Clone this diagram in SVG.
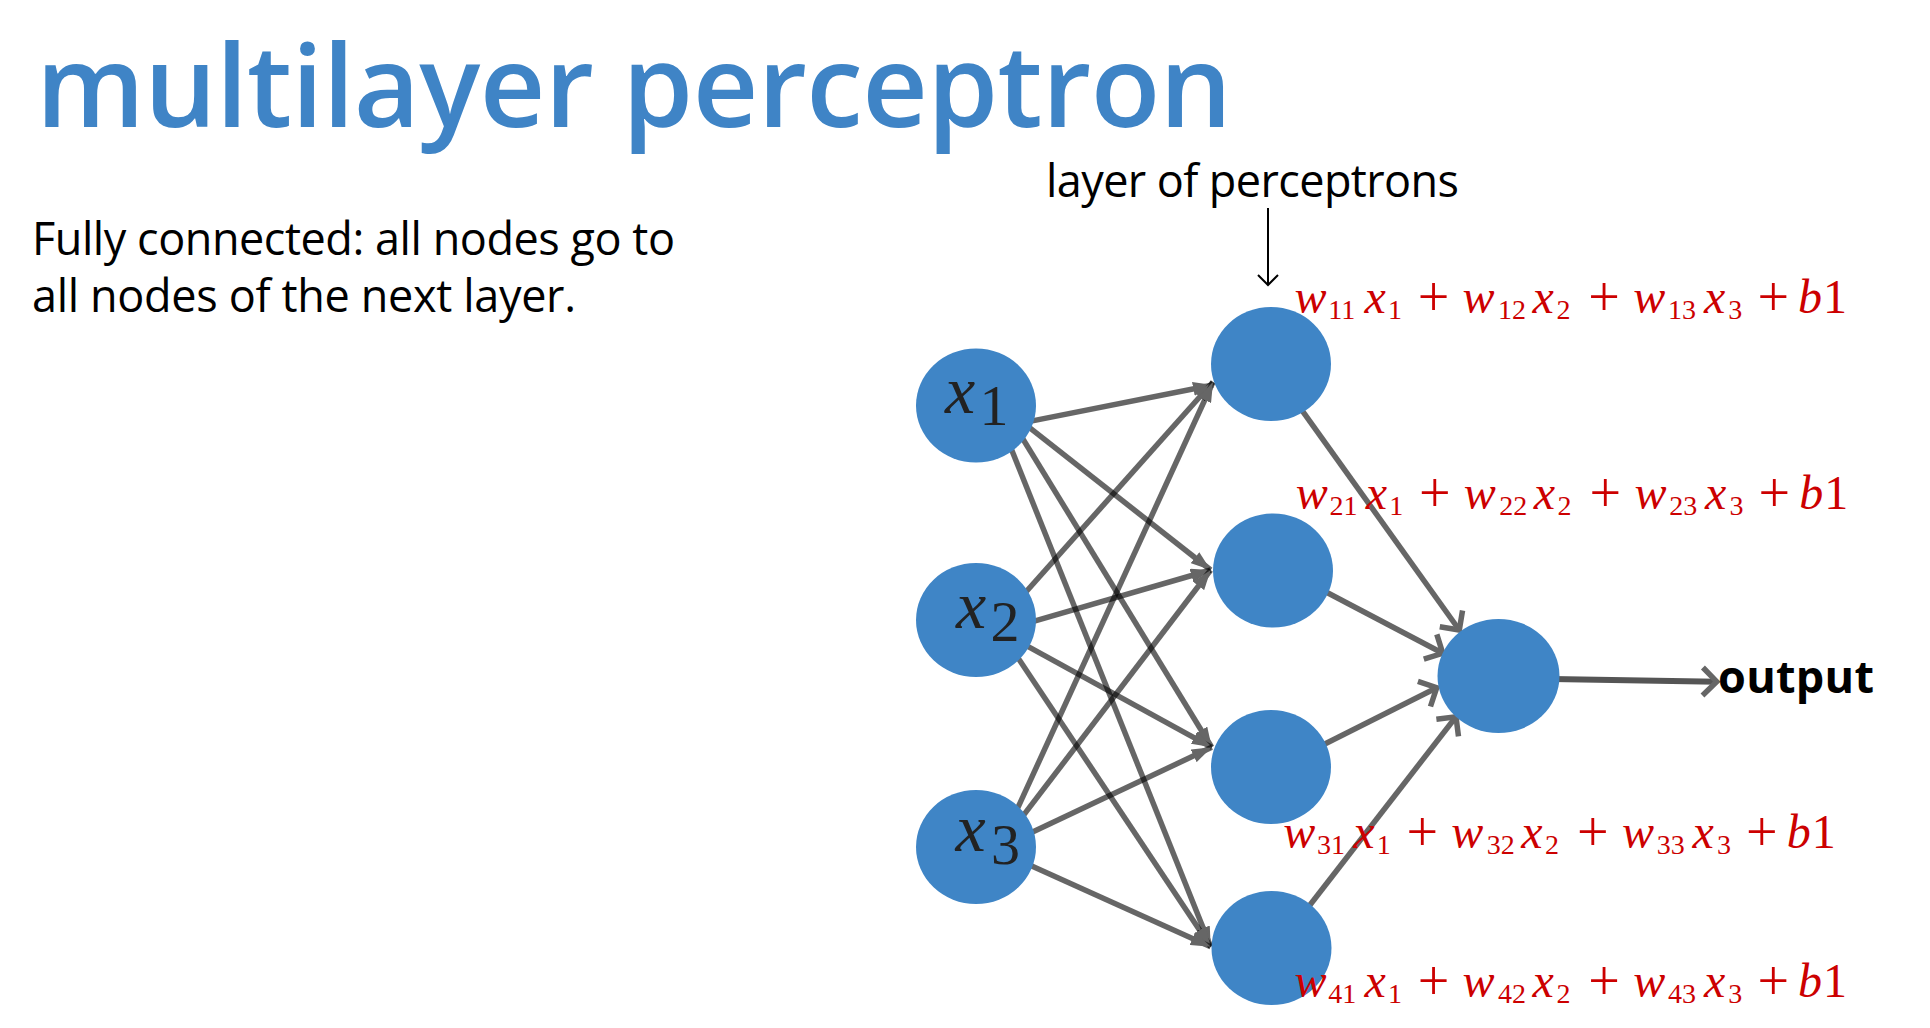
<svg xmlns="http://www.w3.org/2000/svg" width="1930" height="1028" viewBox="0 0 1930 1028">
<style>
.title{font-family:"Open Sans","Liberation Sans",sans-serif;font-weight:600;font-size:114px;fill:#3f84c6}
.body{font-family:"Open Sans","Liberation Sans",sans-serif;font-size:45px;fill:#000}
.outlab{font-family:"Open Sans","Liberation Sans",sans-serif;font-weight:700;font-size:45px;fill:#000}
.node{fill:#3f85c6}
.inlab{font-family:"Liberation Serif","Times New Roman",serif;font-size:68px;fill:#222}
.inlab .v{font-style:italic}
.inlab .s{font-size:58px}
.f{font-family:"Liberation Serif","Times New Roman",serif;font-size:48px;fill:#cc0000}
.f .v{font-style:italic}
.f .s{font-size:28px}
.f .p{font-size:56px}
.ih{stroke:#000;stroke-opacity:0.6;stroke-width:5.5;fill:none}
.ho{stroke:#666;stroke-width:5.5;fill:none}
.oo{stroke:#555;stroke-width:6;fill:none}
</style>
<defs>
<marker id="tri" viewBox="0 0 20 14" refX="20" refY="7" markerWidth="20" markerHeight="14" markerUnits="userSpaceOnUse" orient="auto">
<path d="M0,0 L20,7 L0,14 z" fill="#666"/>
</marker>
<marker id="chev" viewBox="0 0 26 36" refX="17" refY="18" markerWidth="26" markerHeight="36" markerUnits="userSpaceOnUse" orient="auto">
<path d="M3,4 L17,18 L3,32" fill="none" stroke="#666" stroke-width="5.5"/>
</marker>
</defs>
<rect width="1930" height="1028" fill="#fff"/>

<g id="title"><text class="title" x="36" y="127" textLength="1196" lengthAdjust="spacing">multilayer perceptron</text></g>
<g id="description">
<text class="body" x="32" y="255" textLength="643" lengthAdjust="spacing">Fully connected: all nodes go to</text>
<text class="body" x="32" y="312" textLength="544" lengthAdjust="spacing">all nodes of the next layer.</text>
</g>
<g id="layer-label"><text class="body" x="1046" y="197" textLength="413" lengthAdjust="spacing">layer of perceptrons</text></g>

<g id="connectors">
<path d="M1268,208 V285 M1258,275 L1268,285 L1278,275" stroke="#000" stroke-width="2" fill="none"/>
<line class="ih" x1="1027.3" y1="421.9" x2="1213" y2="385" marker-end="url(#tri)"/>
<line class="ih" x1="1025.7" y1="424.6" x2="1210.7" y2="570" marker-end="url(#tri)"/>
<line class="ih" x1="1018" y1="430.9" x2="1211.7" y2="747.3" marker-end="url(#tri)"/>
<line class="ih" x1="1005.7" y1="435" x2="1210.7" y2="946.7" marker-end="url(#tri)"/>
<line class="ih" x1="1022.3" y1="596" x2="1213" y2="382" marker-end="url(#tri)"/>
<line class="ih" x1="1030" y1="622.4" x2="1210.7" y2="570" marker-end="url(#tri)"/>
<line class="ih" x1="1022.3" y1="643.4" x2="1211.7" y2="747.3" marker-end="url(#tri)"/>
<line class="ih" x1="1012.3" y1="649.3" x2="1210.7" y2="946.7" marker-end="url(#tri)"/>
<line class="ih" x1="1012.3" y1="819.8" x2="1213" y2="382" marker-end="url(#tri)"/>
<line class="ih" x1="1019" y1="821.2" x2="1210.7" y2="570" marker-end="url(#tri)"/>
<line class="ih" x1="1027.3" y1="834.5" x2="1211.7" y2="747.3" marker-end="url(#tri)"/>
<line class="ih" x1="1027.3" y1="864" x2="1210.7" y2="946.7" marker-end="url(#tri)"/>
<line class="ho" x1="1299.5" y1="406.8" x2="1459.3" y2="630" marker-end="url(#chev)"/>
<line class="ho" x1="1322.7" y1="590.2" x2="1442.7" y2="653.3" marker-end="url(#chev)"/>
<line class="ho" x1="1321.3" y1="745.7" x2="1436.7" y2="687.7" marker-end="url(#chev)"/>
<line class="ho" x1="1306.3" y1="909.7" x2="1456" y2="716.7" marker-end="url(#chev)"/>
<line class="oo" x1="1552" y1="679" x2="1716.7" y2="681.7" marker-end="url(#chev)"/>
</g>

<g id="x1"><ellipse class="node" cx="976" cy="405.5" rx="60" ry="57"/>
<text class="inlab"><tspan class="v" x="945" y="413">x</tspan><tspan class="s" x="979.5" y="425">1</tspan></text></g>
<g id="x2"><ellipse class="node" cx="976" cy="620" rx="60" ry="57"/>
<text class="inlab"><tspan class="v" x="956" y="628">x</tspan><tspan class="s" x="990.5" y="640.7">2</tspan></text></g>
<g id="x3"><ellipse class="node" cx="976" cy="847" rx="60" ry="57"/>
<text class="inlab"><tspan class="v" x="955.5" y="850.7">x</tspan><tspan class="s" x="991" y="864">3</tspan></text></g>

<g id="h1"><ellipse class="node" cx="1271" cy="364" rx="60" ry="57"/></g>
<g id="h2"><ellipse class="node" cx="1273" cy="570.5" rx="60" ry="57"/></g>
<g id="h3"><ellipse class="node" cx="1271" cy="767" rx="60" ry="57"/></g>
<g id="h4"><ellipse class="node" cx="1271.5" cy="948" rx="60" ry="57"/></g>
<g id="out"><ellipse class="node" cx="1498.5" cy="676" rx="61" ry="57"/></g>
<g id="output-label"><text class="outlab" x="1718" y="693" textLength="156" lengthAdjust="spacing">output</text></g>

<g id="formula1" transform="translate(1294.6,313)"><text class="f"><tspan class="v" x="0" y="0">w</tspan><tspan class="s" x="33.7" y="6">11</tspan><tspan class="v" x="70" y="0">x</tspan><tspan class="s" x="93.5" y="6">1</tspan><tspan class="p" x="123.2" y="3">+</tspan><tspan class="v" x="168" y="0">w</tspan><tspan class="s" x="203.5" y="6">12</tspan><tspan class="v" x="238" y="0">x</tspan><tspan class="s" x="261.8" y="6">2</tspan><tspan class="p" x="293.7" y="3">+</tspan><tspan class="v" x="338.7" y="0">w</tspan><tspan class="s" x="373.5" y="6">13</tspan><tspan class="v" x="409.3" y="0">x</tspan><tspan class="s" x="433.7" y="6">3</tspan><tspan class="p" x="462.8" y="3">+</tspan><tspan class="v" x="503.5" y="0">b</tspan><tspan x="528.5" y="0">1</tspan></text></g>
<g id="formula2" transform="translate(1295.8,509.3)"><text class="f"><tspan class="v" x="0" y="0">w</tspan><tspan class="s" x="33.7" y="6">21</tspan><tspan class="v" x="70" y="0">x</tspan><tspan class="s" x="93.5" y="6">1</tspan><tspan class="p" x="123.2" y="3">+</tspan><tspan class="v" x="168" y="0">w</tspan><tspan class="s" x="203.5" y="6">22</tspan><tspan class="v" x="238" y="0">x</tspan><tspan class="s" x="261.8" y="6">2</tspan><tspan class="p" x="293.7" y="3">+</tspan><tspan class="v" x="338.7" y="0">w</tspan><tspan class="s" x="373.5" y="6">23</tspan><tspan class="v" x="409.3" y="0">x</tspan><tspan class="s" x="433.7" y="6">3</tspan><tspan class="p" x="462.8" y="3">+</tspan><tspan class="v" x="503.5" y="0">b</tspan><tspan x="528.5" y="0">1</tspan></text></g>
<g id="formula3" transform="translate(1283.3,848.3)"><text class="f"><tspan class="v" x="0" y="0">w</tspan><tspan class="s" x="33.7" y="6">31</tspan><tspan class="v" x="70" y="0">x</tspan><tspan class="s" x="93.5" y="6">1</tspan><tspan class="p" x="123.2" y="3">+</tspan><tspan class="v" x="168" y="0">w</tspan><tspan class="s" x="203.5" y="6">32</tspan><tspan class="v" x="238" y="0">x</tspan><tspan class="s" x="261.8" y="6">2</tspan><tspan class="p" x="293.7" y="3">+</tspan><tspan class="v" x="338.7" y="0">w</tspan><tspan class="s" x="373.5" y="6">33</tspan><tspan class="v" x="409.3" y="0">x</tspan><tspan class="s" x="433.7" y="6">3</tspan><tspan class="p" x="462.8" y="3">+</tspan><tspan class="v" x="503.5" y="0">b</tspan><tspan x="528.5" y="0">1</tspan></text></g>
<g id="formula4" transform="translate(1294.6,996.7)"><text class="f"><tspan class="v" x="0" y="0">w</tspan><tspan class="s" x="33.7" y="6">41</tspan><tspan class="v" x="70" y="0">x</tspan><tspan class="s" x="93.5" y="6">1</tspan><tspan class="p" x="123.2" y="3">+</tspan><tspan class="v" x="168" y="0">w</tspan><tspan class="s" x="203.5" y="6">42</tspan><tspan class="v" x="238" y="0">x</tspan><tspan class="s" x="261.8" y="6">2</tspan><tspan class="p" x="293.7" y="3">+</tspan><tspan class="v" x="338.7" y="0">w</tspan><tspan class="s" x="373.5" y="6">43</tspan><tspan class="v" x="409.3" y="0">x</tspan><tspan class="s" x="433.7" y="6">3</tspan><tspan class="p" x="462.8" y="3">+</tspan><tspan class="v" x="503.5" y="0">b</tspan><tspan x="528.5" y="0">1</tspan></text></g>
</svg>
